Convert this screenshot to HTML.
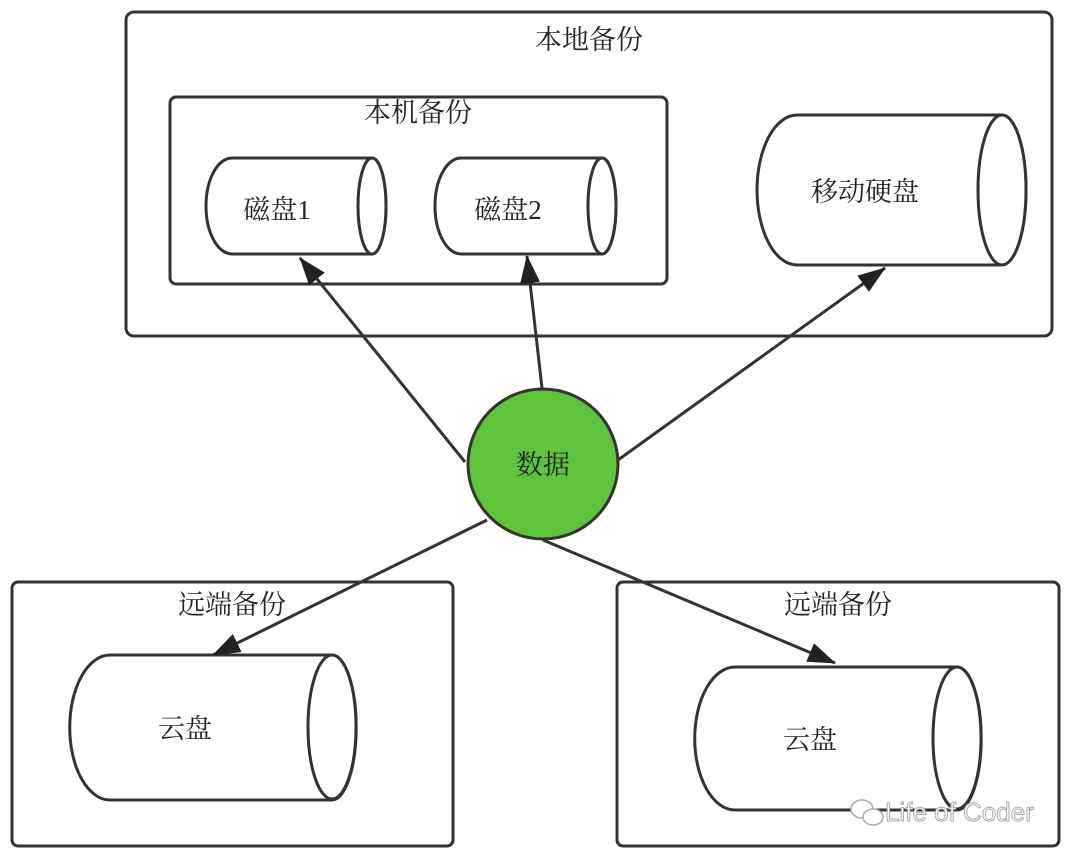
<!DOCTYPE html>
<html><head><meta charset="utf-8"><style>
html,body{margin:0;padding:0;background:#fff;width:1080px;height:856px;overflow:hidden}
text{font-family:"Liberation Serif","Noto Serif CJK SC",serif;fill:#222}
</style></head><body>
<svg width="1080" height="856" viewBox="0 0 1080 856" xmlns="http://www.w3.org/2000/svg">
<defs>
<marker id="b" markerWidth="28" markerHeight="20" refX="27" refY="10" orient="auto" markerUnits="userSpaceOnUse" viewBox="0 0 28 20"><path d="M0,0 L28,10 L0,20 z" fill="#222"/></marker></defs>
<g fill="none" stroke="#333" stroke-width="3">
<rect x="126" y="12" width="926" height="324" rx="8"/>
<rect x="170" y="97" width="497" height="187" rx="6"/>
<rect x="12" y="582" width="441" height="264" rx="6"/>
<rect x="617" y="582" width="442" height="264" rx="6"/>
</g>
<g fill="#fff" stroke="#333" stroke-width="3">
<path d="M232,158 L372,158 A14,48 0 0 1 372,254 L232,254 A26,48 0 0 1 232,158 z"/><ellipse cx="372" cy="206" rx="14" ry="48"/>
<path d="M461,158 L602,158 A14,48 0 0 1 602,254 L461,254 A26,48 0 0 1 461,158 z"/><ellipse cx="602" cy="206" rx="14" ry="48"/>
<path d="M797,115 L1002,115 A24,75 0 0 1 1002,265 L797,265 A40,75 0 0 1 797,115 z"/><ellipse cx="1002" cy="190" rx="24" ry="75"/>
<path d="M110,655 L332,655 A24,72 0 0 1 332,800 L110,800 A40,72 0 0 1 110,655 z"/><ellipse cx="332" cy="727" rx="24" ry="72"/>
<path d="M735,667 L957,667 A24,71 0 0 1 957,810 L735,810 A40,71 0 0 1 735,667 z"/><ellipse cx="957" cy="738" rx="24" ry="71"/>
</g>
<g stroke="#333" stroke-width="3" fill="none">
<line x1="465" y1="462" x2="300" y2="258" marker-end="url(#b)"/>
<line x1="542" y1="388" x2="527" y2="256" marker-end="url(#b)"/>
<line x1="618" y1="460" x2="885" y2="268" marker-end="url(#b)"/>
<line x1="487" y1="520" x2="213" y2="655" marker-end="url(#b)"/>
<line x1="543" y1="540" x2="835" y2="663" marker-end="url(#b)"/>
</g>
<circle cx="543" cy="464" r="75" fill="#5ec43c" stroke="#333" stroke-width="3"/>
<g font-size="27" text-anchor="middle">
<text x="589" y="49">本地备份</text>
<text x="418" y="122">本机备份</text>
<text x="277" y="219">磁盘1</text>
<text x="508" y="219">磁盘2</text>
<text x="865" y="201">移动硬盘</text>
<text x="543" y="474">数据</text>
<text x="232" y="614">远端备份</text>
<text x="838" y="614">远端备份</text>
<text x="185" y="738">云盘</text>
<text x="810" y="749">云盘</text>
</g>
<text x="885" y="821" font-size="26" style="font-family:'Liberation Sans',sans-serif;fill:#fff;stroke:#aaa;stroke-width:1">Life of Coder</text>
<g fill="#fff" stroke="#aaa" stroke-width="1.5"><ellipse cx="862" cy="809" rx="11" ry="9"/><ellipse cx="873" cy="817" rx="10" ry="8"/></g>
</svg>
</body></html>
